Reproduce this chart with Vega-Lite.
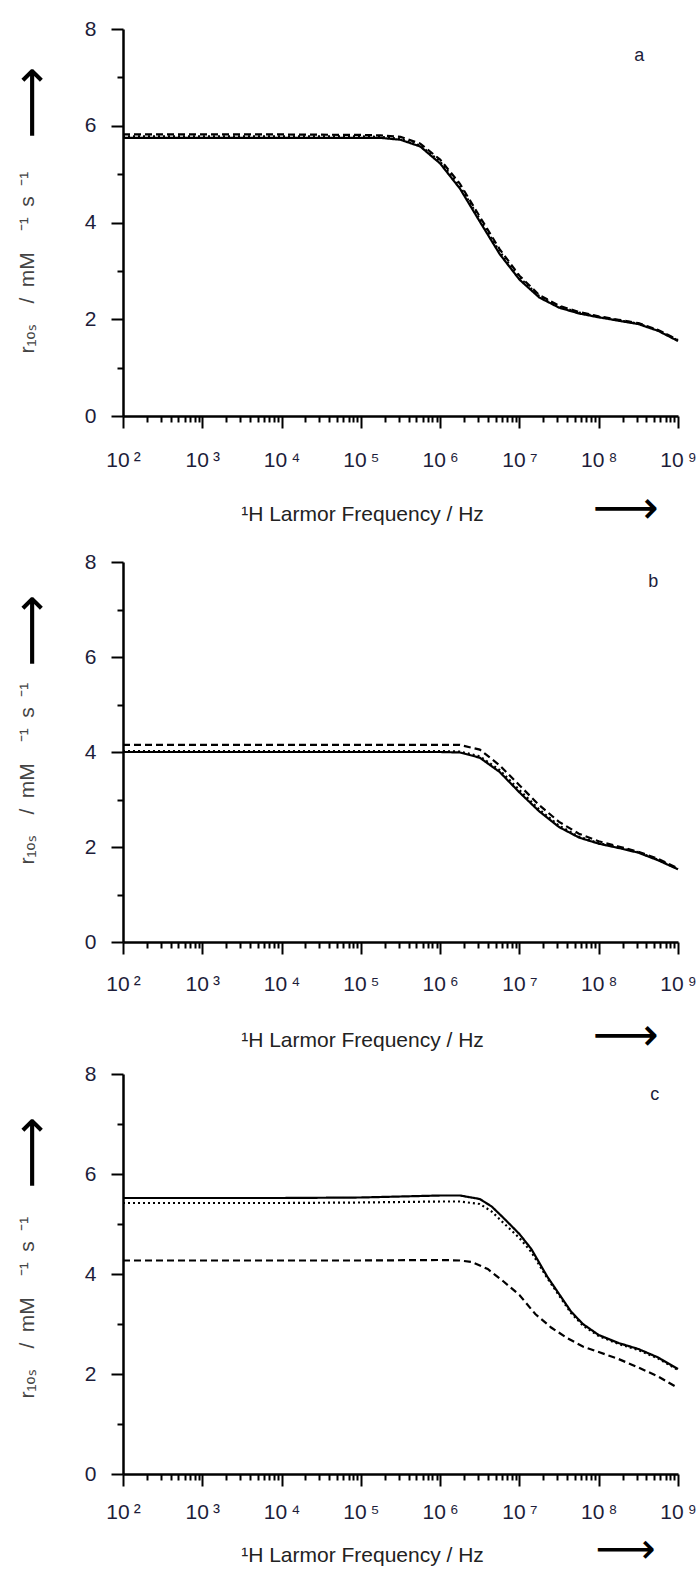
{
  "$schema": "https://vega.github.io/schema/vega-lite/v6.json",
  "padding": {"left": 7, "top": 18, "right": 5, "bottom": 5},
  "background": "white",
  "config": {
    "view": {"stroke": null},
    "axis": {"grid": false, "domainColor": "black", "domainWidth": 2.5, "tickColor": "black", "tickWidth": 2, "labelFont": "Liberation Sans", "labelFontSize": 21, "labelColor": "#1d1d3a", "titleFont": "Liberation Sans", "titleFontWeight": "normal"},
    "title": {"font": "Liberation Sans", "fontSize": 18, "fontWeight": "normal", "color": "#1d1d3a"}
  },
  "data": {"values": [
    {"panel":"a","series":"solid","f":100,"r":5.75},{"panel":"a","series":"solid","f":1000,"r":5.75},{"panel":"a","series":"solid","f":10000,"r":5.75},{"panel":"a","series":"solid","f":100000,"r":5.75},{"panel":"a","series":"solid","f":177828,"r":5.75},{"panel":"a","series":"solid","f":316228,"r":5.71},{"panel":"a","series":"solid","f":562341,"r":5.57},{"panel":"a","series":"solid","f":1000000,"r":5.22},{"panel":"a","series":"solid","f":1778279,"r":4.7},{"panel":"a","series":"solid","f":3162278,"r":4.02},{"panel":"a","series":"solid","f":5623413,"r":3.35},{"panel":"a","series":"solid","f":10000000,"r":2.82},{"panel":"a","series":"solid","f":17782794,"r":2.45},{"panel":"a","series":"solid","f":31622777,"r":2.24},{"panel":"a","series":"solid","f":56234133,"r":2.12},{"panel":"a","series":"solid","f":100000000,"r":2.04},{"panel":"a","series":"solid","f":177827941,"r":1.97},{"panel":"a","series":"solid","f":316227766,"r":1.9},{"panel":"a","series":"solid","f":562341325,"r":1.76},{"panel":"a","series":"solid","f":1000000000,"r":1.55},
    {"panel":"a","series":"dashed","f":100,"r":5.82},{"panel":"a","series":"dashed","f":1000,"r":5.82},{"panel":"a","series":"dashed","f":10000,"r":5.82},{"panel":"a","series":"dashed","f":100000,"r":5.81},{"panel":"a","series":"dashed","f":177828,"r":5.8},{"panel":"a","series":"dashed","f":316228,"r":5.77},{"panel":"a","series":"dashed","f":562341,"r":5.63},{"panel":"a","series":"dashed","f":1000000,"r":5.3},{"panel":"a","series":"dashed","f":1778279,"r":4.8},{"panel":"a","series":"dashed","f":3162278,"r":4.12},{"panel":"a","series":"dashed","f":5623413,"r":3.45},{"panel":"a","series":"dashed","f":10000000,"r":2.9},{"panel":"a","series":"dashed","f":17782794,"r":2.5},{"panel":"a","series":"dashed","f":31622777,"r":2.28},{"panel":"a","series":"dashed","f":56234133,"r":2.15},{"panel":"a","series":"dashed","f":100000000,"r":2.06},{"panel":"a","series":"dashed","f":177827941,"r":1.99},{"panel":"a","series":"dashed","f":316227766,"r":1.92},{"panel":"a","series":"dashed","f":562341325,"r":1.78},{"panel":"a","series":"dashed","f":1000000000,"r":1.57},
    {"panel":"a","series":"dotted","f":100,"r":5.78},{"panel":"a","series":"dotted","f":1000,"r":5.78},{"panel":"a","series":"dotted","f":10000,"r":5.78},{"panel":"a","series":"dotted","f":100000,"r":5.78},{"panel":"a","series":"dotted","f":177828,"r":5.77},{"panel":"a","series":"dotted","f":316228,"r":5.73},{"panel":"a","series":"dotted","f":562341,"r":5.59},{"panel":"a","series":"dotted","f":1000000,"r":5.26},{"panel":"a","series":"dotted","f":1778279,"r":4.75},{"panel":"a","series":"dotted","f":3162278,"r":4.07},{"panel":"a","series":"dotted","f":5623413,"r":3.4},{"panel":"a","series":"dotted","f":10000000,"r":2.86},{"panel":"a","series":"dotted","f":17782794,"r":2.48},{"panel":"a","series":"dotted","f":31622777,"r":2.26},{"panel":"a","series":"dotted","f":56234133,"r":2.14},{"panel":"a","series":"dotted","f":100000000,"r":2.05},{"panel":"a","series":"dotted","f":177827941,"r":1.98},{"panel":"a","series":"dotted","f":316227766,"r":1.91},{"panel":"a","series":"dotted","f":562341325,"r":1.77},{"panel":"a","series":"dotted","f":1000000000,"r":1.56},
    {"panel":"b","series":"solid","f":100,"r":4.0},{"panel":"b","series":"solid","f":1000,"r":4.0},{"panel":"b","series":"solid","f":10000,"r":4.0},{"panel":"b","series":"solid","f":100000,"r":4.0},{"panel":"b","series":"solid","f":1000000,"r":4.0},{"panel":"b","series":"solid","f":1778279,"r":3.99},{"panel":"b","series":"solid","f":3162278,"r":3.88},{"panel":"b","series":"solid","f":5623413,"r":3.58},{"panel":"b","series":"solid","f":10000000,"r":3.15},{"panel":"b","series":"solid","f":17782794,"r":2.75},{"panel":"b","series":"solid","f":31622777,"r":2.42},{"panel":"b","series":"solid","f":56234133,"r":2.2},{"panel":"b","series":"solid","f":100000000,"r":2.07},{"panel":"b","series":"solid","f":177827941,"r":1.98},{"panel":"b","series":"solid","f":316227766,"r":1.88},{"panel":"b","series":"solid","f":562341325,"r":1.72},{"panel":"b","series":"solid","f":1000000000,"r":1.53},
    {"panel":"b","series":"dashed","f":100,"r":4.15},{"panel":"b","series":"dashed","f":1000,"r":4.15},{"panel":"b","series":"dashed","f":10000,"r":4.15},{"panel":"b","series":"dashed","f":100000,"r":4.15},{"panel":"b","series":"dashed","f":1000000,"r":4.15},{"panel":"b","series":"dashed","f":1778279,"r":4.15},{"panel":"b","series":"dashed","f":3162278,"r":4.05},{"panel":"b","series":"dashed","f":5623413,"r":3.72},{"panel":"b","series":"dashed","f":10000000,"r":3.3},{"panel":"b","series":"dashed","f":17782794,"r":2.88},{"panel":"b","series":"dashed","f":31622777,"r":2.53},{"panel":"b","series":"dashed","f":56234133,"r":2.28},{"panel":"b","series":"dashed","f":100000000,"r":2.12},{"panel":"b","series":"dashed","f":177827941,"r":2.01},{"panel":"b","series":"dashed","f":316227766,"r":1.9},{"panel":"b","series":"dashed","f":562341325,"r":1.75},{"panel":"b","series":"dashed","f":1000000000,"r":1.55},
    {"panel":"b","series":"dotted","f":100,"r":4.02},{"panel":"b","series":"dotted","f":1000,"r":4.02},{"panel":"b","series":"dotted","f":10000,"r":4.02},{"panel":"b","series":"dotted","f":100000,"r":4.02},{"panel":"b","series":"dotted","f":1000000,"r":4.02},{"panel":"b","series":"dotted","f":1778279,"r":4.01},{"panel":"b","series":"dotted","f":3162278,"r":3.91},{"panel":"b","series":"dotted","f":5623413,"r":3.62},{"panel":"b","series":"dotted","f":10000000,"r":3.2},{"panel":"b","series":"dotted","f":17782794,"r":2.79},{"panel":"b","series":"dotted","f":31622777,"r":2.45},{"panel":"b","series":"dotted","f":56234133,"r":2.22},{"panel":"b","series":"dotted","f":100000000,"r":2.08},{"panel":"b","series":"dotted","f":177827941,"r":1.99},{"panel":"b","series":"dotted","f":316227766,"r":1.89},{"panel":"b","series":"dotted","f":562341325,"r":1.73},{"panel":"b","series":"dotted","f":1000000000,"r":1.54},
    {"panel":"c","series":"solid","f":100,"r":5.52},{"panel":"c","series":"solid","f":1000,"r":5.52},{"panel":"c","series":"solid","f":10000,"r":5.52},{"panel":"c","series":"solid","f":100000,"r":5.53},{"panel":"c","series":"solid","f":316228,"r":5.55},{"panel":"c","series":"solid","f":1000000,"r":5.57},{"panel":"c","series":"solid","f":1778279,"r":5.57},{"panel":"c","series":"solid","f":3162278,"r":5.5},{"panel":"c","series":"solid","f":4466836,"r":5.35},{"panel":"c","series":"solid","f":6309573,"r":5.12},{"panel":"c","series":"solid","f":10000000,"r":4.8},{"panel":"c","series":"solid","f":14125375,"r":4.5},{"panel":"c","series":"solid","f":22387211,"r":3.95},{"panel":"c","series":"solid","f":31622777,"r":3.6},{"panel":"c","series":"solid","f":44668359,"r":3.25},{"panel":"c","series":"solid","f":63095734,"r":3.0},{"panel":"c","series":"solid","f":100000000,"r":2.78},{"panel":"c","series":"solid","f":177827941,"r":2.62},{"panel":"c","series":"solid","f":316227766,"r":2.5},{"panel":"c","series":"solid","f":562341325,"r":2.33},{"panel":"c","series":"solid","f":1000000000,"r":2.1},
    {"panel":"c","series":"dotted","f":100,"r":5.42},{"panel":"c","series":"dotted","f":1000,"r":5.42},{"panel":"c","series":"dotted","f":10000,"r":5.42},{"panel":"c","series":"dotted","f":100000,"r":5.43},{"panel":"c","series":"dotted","f":316228,"r":5.44},{"panel":"c","series":"dotted","f":1000000,"r":5.45},{"panel":"c","series":"dotted","f":1778279,"r":5.45},{"panel":"c","series":"dotted","f":3162278,"r":5.4},{"panel":"c","series":"dotted","f":4466836,"r":5.25},{"panel":"c","series":"dotted","f":6309573,"r":5.02},{"panel":"c","series":"dotted","f":10000000,"r":4.72},{"panel":"c","series":"dotted","f":14125375,"r":4.44},{"panel":"c","series":"dotted","f":22387211,"r":3.92},{"panel":"c","series":"dotted","f":31622777,"r":3.57},{"panel":"c","series":"dotted","f":44668359,"r":3.22},{"panel":"c","series":"dotted","f":63095734,"r":2.97},{"panel":"c","series":"dotted","f":100000000,"r":2.76},{"panel":"c","series":"dotted","f":177827941,"r":2.6},{"panel":"c","series":"dotted","f":316227766,"r":2.48},{"panel":"c","series":"dotted","f":562341325,"r":2.31},{"panel":"c","series":"dotted","f":1000000000,"r":2.08},
    {"panel":"c","series":"dashed","f":100,"r":4.27},{"panel":"c","series":"dashed","f":1000,"r":4.27},{"panel":"c","series":"dashed","f":10000,"r":4.27},{"panel":"c","series":"dashed","f":100000,"r":4.27},{"panel":"c","series":"dashed","f":1000000,"r":4.28},{"panel":"c","series":"dashed","f":1778279,"r":4.27},{"panel":"c","series":"dashed","f":2511886,"r":4.24},{"panel":"c","series":"dashed","f":3981072,"r":4.1},{"panel":"c","series":"dashed","f":6309573,"r":3.85},{"panel":"c","series":"dashed","f":10000000,"r":3.58},{"panel":"c","series":"dashed","f":15848932,"r":3.2},{"panel":"c","series":"dashed","f":25118864,"r":2.93},{"panel":"c","series":"dashed","f":39810717,"r":2.72},{"panel":"c","series":"dashed","f":63095734,"r":2.55},{"panel":"c","series":"dashed","f":100000000,"r":2.44},{"panel":"c","series":"dashed","f":177827941,"r":2.3},{"panel":"c","series":"dashed","f":316227766,"r":2.13},{"panel":"c","series":"dashed","f":562341325,"r":1.95},{"panel":"c","series":"dashed","f":1000000000,"r":1.72}
  ]},
  "bounds": "flush",
  "spacing": 146,
  "vconcat": [
    {
      "width": 555, "height": 387,
      "title": {"text": "a", "anchor": "end", "orient": "top", "baseline": "alphabetic", "offset": -61, "dx": -52},
      "transform": [{"filter": "datum.panel == 'a'"}],
      "resolve": {"axis": {"x": "independent", "y": "independent"}},
      "layer": [
        {
          "mark": {"type": "line", "color": "black", "strokeWidth": 2.2},
          "encoding": {
            "x": {"field": "f", "type": "quantitative", "scale": {"type": "log", "domain": [100, 1000000000]},
              "axis": {"orient": "bottom", "values": [100,200,300,400,500,600,700,800,900,1000,2000,3000,4000,5000,6000,7000,8000,9000,10000,20000,30000,40000,50000,60000,70000,80000,90000,100000,200000,300000,400000,500000,600000,700000,800000,900000,1000000,2000000,3000000,4000000,5000000,6000000,7000000,8000000,9000000,10000000,20000000,30000000,40000000,50000000,60000000,70000000,80000000,90000000,100000000,200000000,300000000,400000000,500000000,600000000,700000000,800000000,900000000,1000000000],
                "labelExpr": "abs(log(datum.value)/LN10 - round(log(datum.value)/LN10)) < 0.000001 ? '10\u2009' + ['⁰','¹','²','³','⁴','⁵','⁶','⁷','⁸','⁹'][round(log(datum.value)/LN10)] : ''",
                "labelOverlap": false, "labelFlush": false, "labelBound": false, "labelPadding": 21, "labelFontSize": 21,
                "tickSize": {"condition": {"test": "abs(log(datum.value)/LN10 - round(log(datum.value)/LN10)) < 0.000001", "value": 12}, "value": 6},
                "title": "¹H Larmor Frequency / Hz", "titleFontSize": 21, "titleColor": "#222", "titleAnchor": "start", "titleAlign": "center", "titleX": 239, "titleY": 104, "titleBaseline": "alphabetic"}},
            "y": {"field": "r", "type": "quantitative", "scale": {"domain": [0, 8], "nice": false},
              "axis": {"orient": "left", "values": [0,1,2,3,4,5,6,7,8], "labelExpr": "datum.value % 2 == 0 ? datum.label : ''", "labelPadding": 15,
                "tickSize": {"condition": {"test": "datum.value % 2 == 0", "value": 12}, "value": 6},
                "title": "r₁ₒₛ\u2003/\u2002mM\u2003⁻¹\u2002s\u2002⁻¹", "titleFontSize": 21, "titleColor": "#444", "titleAngle": 270, "titleAlign": "left", "titleBaseline": "alphabetic", "titleX": -90, "titleY": 324}},
            "strokeDash": {"field": "series", "type": "nominal", "scale": {"domain": ["solid", "dashed", "dotted"], "range": [[1, 0], [7, 4], [2, 3]]}, "legend": null}
          }
        },
        {
          "mark": {"type": "point", "opacity": 0},
          "encoding": {
            "x": {"field": "f", "type": "quantitative", "axis": {"orient": "bottom", "domain": false, "ticks": false, "labels": false, "title": "⟶", "titleFont": "DejaVu Sans", "titleFontSize": 46, "titleColor": "black", "titleAnchor": "start", "titleAlign": "left", "titleX": 469, "titleY": 106, "titleBaseline": "alphabetic"}},
            "y": {"field": "r", "type": "quantitative", "axis": {"orient": "left", "domain": false, "ticks": false, "labels": false, "title": "⟶", "titleFont": "DejaVu Sans", "titleFontSize": 50, "titleColor": "black", "titleAngle": 270, "titleAlign": "left", "titleBaseline": "alphabetic", "titleX": -76, "titleY": 109}}
          }
        }
      ]
    },
    {
      "bounds": "flush",
      "spacing": 132,
      "vconcat": [
        {
          "width": 555, "height": 380,
          "title": {"text": "b", "anchor": "end", "orient": "top", "baseline": "alphabetic", "offset": -54, "dx": -38},
          "transform": [{"filter": "datum.panel == 'b'"}],
          "resolve": {"axis": {"x": "independent", "y": "independent"}},
          "layer": [
            {
              "mark": {"type": "line", "color": "black", "strokeWidth": 2.2},
              "encoding": {
                "x": {"field": "f", "type": "quantitative", "scale": {"type": "log", "domain": [100, 1000000000]},
                  "axis": {"orient": "bottom", "values": [100,200,300,400,500,600,700,800,900,1000,2000,3000,4000,5000,6000,7000,8000,9000,10000,20000,30000,40000,50000,60000,70000,80000,90000,100000,200000,300000,400000,500000,600000,700000,800000,900000,1000000,2000000,3000000,4000000,5000000,6000000,7000000,8000000,9000000,10000000,20000000,30000000,40000000,50000000,60000000,70000000,80000000,90000000,100000000,200000000,300000000,400000000,500000000,600000000,700000000,800000000,900000000,1000000000],
                    "labelExpr": "abs(log(datum.value)/LN10 - round(log(datum.value)/LN10)) < 0.000001 ? '10\u2009' + ['⁰','¹','²','³','⁴','⁵','⁶','⁷','⁸','⁹'][round(log(datum.value)/LN10)] : ''",
                    "labelOverlap": false, "labelFlush": false, "labelBound": false, "labelPadding": 19, "labelFontSize": 21,
                    "tickSize": {"condition": {"test": "abs(log(datum.value)/LN10 - round(log(datum.value)/LN10)) < 0.000001", "value": 12}, "value": 6},
                    "title": "¹H Larmor Frequency / Hz", "titleFontSize": 21, "titleColor": "#222", "titleAnchor": "start", "titleAlign": "center", "titleX": 239, "titleY": 104, "titleBaseline": "alphabetic"}},
                "y": {"field": "r", "type": "quantitative", "scale": {"domain": [0, 8], "nice": false},
                  "axis": {"orient": "left", "values": [0,1,2,3,4,5,6,7,8], "labelExpr": "datum.value % 2 == 0 ? datum.label : ''", "labelPadding": 15,
                    "tickSize": {"condition": {"test": "datum.value % 2 == 0", "value": 12}, "value": 6},
                    "title": "r₁ₒₛ\u2003/\u2002mM\u2003⁻¹\u2002s\u2002⁻¹", "titleFontSize": 21, "titleColor": "#444", "titleAngle": 270, "titleAlign": "left", "titleBaseline": "alphabetic", "titleX": -90, "titleY": 302}},
                "strokeDash": {"field": "series", "type": "nominal", "scale": {"domain": ["solid", "dashed", "dotted"], "range": [[1, 0], [7, 4], [2, 3]]}, "legend": null}
              }
            },
            {
              "mark": {"type": "point", "opacity": 0},
              "encoding": {
                "x": {"field": "f", "type": "quantitative", "axis": {"orient": "bottom", "domain": false, "ticks": false, "labels": false, "title": "⟶", "titleFont": "DejaVu Sans", "titleFontSize": 46, "titleColor": "black", "titleAnchor": "start", "titleAlign": "left", "titleX": 469, "titleY": 107, "titleBaseline": "alphabetic"}},
                "y": {"field": "r", "type": "quantitative", "axis": {"orient": "left", "domain": false, "ticks": false, "labels": false, "title": "⟶", "titleFont": "DejaVu Sans", "titleFontSize": 50, "titleColor": "black", "titleAngle": 270, "titleAlign": "left", "titleBaseline": "alphabetic", "titleX": -76, "titleY": 104}}
              }
            }
          ]
        },
        {
          "width": 555, "height": 400,
          "title": {"text": "c", "anchor": "end", "orient": "top", "baseline": "alphabetic", "offset": -55, "dx": -37},
          "transform": [{"filter": "datum.panel == 'c'"}],
          "resolve": {"axis": {"x": "independent", "y": "independent"}},
          "layer": [
            {
              "mark": {"type": "line", "color": "black", "strokeWidth": 2.2},
              "encoding": {
                "x": {"field": "f", "type": "quantitative", "scale": {"type": "log", "domain": [100, 1000000000]},
                  "axis": {"orient": "bottom", "values": [100,200,300,400,500,600,700,800,900,1000,2000,3000,4000,5000,6000,7000,8000,9000,10000,20000,30000,40000,50000,60000,70000,80000,90000,100000,200000,300000,400000,500000,600000,700000,800000,900000,1000000,2000000,3000000,4000000,5000000,6000000,7000000,8000000,9000000,10000000,20000000,30000000,40000000,50000000,60000000,70000000,80000000,90000000,100000000,200000000,300000000,400000000,500000000,600000000,700000000,800000000,900000000,1000000000],
                    "labelExpr": "abs(log(datum.value)/LN10 - round(log(datum.value)/LN10)) < 0.000001 ? '10\u2009' + ['⁰','¹','²','³','⁴','⁵','⁶','⁷','⁸','⁹'][round(log(datum.value)/LN10)] : ''",
                    "labelOverlap": false, "labelFlush": false, "labelBound": false, "labelPadding": 15, "labelFontSize": 21,
                    "tickSize": {"condition": {"test": "abs(log(datum.value)/LN10 - round(log(datum.value)/LN10)) < 0.000001", "value": 12}, "value": 6},
                    "title": "¹H Larmor Frequency / Hz", "titleFontSize": 21, "titleColor": "#222", "titleAnchor": "start", "titleAlign": "center", "titleX": 239, "titleY": 87, "titleBaseline": "alphabetic"}},
                "y": {"field": "r", "type": "quantitative", "scale": {"domain": [0, 8], "nice": false},
                  "axis": {"orient": "left", "values": [0,1,2,3,4,5,6,7,8], "labelExpr": "datum.value % 2 == 0 ? datum.label : ''", "labelPadding": 15,
                    "tickSize": {"condition": {"test": "datum.value % 2 == 0", "value": 12}, "value": 6},
                    "title": "r₁ₒₛ\u2003/\u2002mM\u2003⁻¹\u2002s\u2002⁻¹", "titleFontSize": 21, "titleColor": "#444", "titleAngle": 270, "titleAlign": "left", "titleBaseline": "alphabetic", "titleX": -90, "titleY": 324}},
                "strokeDash": {"field": "series", "type": "nominal", "scale": {"domain": ["solid", "dashed", "dotted"], "range": [[1, 0], [7, 4], [2, 3]]}, "legend": null}
              }
            },
            {
              "mark": {"type": "point", "opacity": 0},
              "encoding": {
                "x": {"field": "f", "type": "quantitative", "axis": {"orient": "bottom", "domain": false, "ticks": false, "labels": false, "title": "⟶", "titleFont": "DejaVu Sans", "titleFontSize": 42, "titleColor": "black", "titleAnchor": "start", "titleAlign": "left", "titleX": 472, "titleY": 88, "titleBaseline": "alphabetic"}},
                "y": {"field": "r", "type": "quantitative", "axis": {"orient": "left", "domain": false, "ticks": false, "labels": false, "title": "⟶", "titleFont": "DejaVu Sans", "titleFontSize": 50, "titleColor": "black", "titleAngle": 270, "titleAlign": "left", "titleBaseline": "alphabetic", "titleX": -76, "titleY": 114}}
              }
            }
          ]
        }
      ]
    }
  ]
}
